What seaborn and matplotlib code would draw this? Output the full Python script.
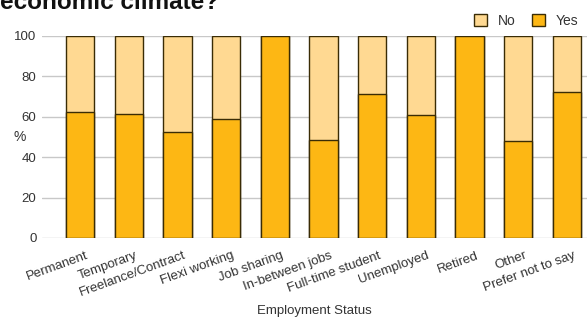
import pandas as pd
import matplotlib
matplotlib.use("Agg")
import matplotlib.pyplot as plt
import matplotlib.transforms as mtransforms
import seaborn as sns
from matplotlib.patches import Patch

# -------- data --------
categories = ["Permanent", "Temporary", "Freelance/Contract", "Flexi working",
              "Job sharing", "In-between jobs", "Full-time student", "Unemployed",
              "Retired", "Other", "Prefer not to say"]
yes_pct = [62.5, 61.3, 52.5, 59.0, 100.0, 48.5, 71.5, 61.0, 100.0, 48.0, 72.5]
no_pct = [100 - v for v in yes_pct]

df = pd.DataFrame({"status": categories, "Yes": yes_pct, "No": no_pct})
df["Total"] = df["Yes"] + df["No"]

yes_col = "#FDB714"
no_col = "#FFD992"
edge = "#3a2c05"
txt = "#333333"

sns.set_style("white")
plt.rcParams["font.family"] = ["Liberation Sans", "DejaVu Sans"]

fig = plt.figure(figsize=(5.87, 3.29), dpi=100)
ax = fig.add_axes([42 / 587, (329 - 238) / 329, 1 - 42 / 587, 202 / 329])

sns.barplot(data=df, x="status", y="Total", color=no_col, width=0.58,
            saturation=1, edgecolor=edge, linewidth=1, ax=ax, zorder=3)
sns.barplot(data=df, x="status", y="Yes", color=yes_col, width=0.58,
            saturation=1, edgecolor=edge, linewidth=1, ax=ax, zorder=4)

ax.set_ylim(0, 100)
ax.set_xlim(-0.78, 10.41)
ax.set_yticks([0, 20, 40, 60, 80, 100])
ax.yaxis.grid(True, color="#c8c8c8", linewidth=1, zorder=0)
ax.set_axisbelow(True)
for s in ax.spines.values():
    s.set_visible(False)

ax.tick_params(axis="both", length=0, labelsize=9.5, labelcolor=txt)
ax.tick_params(axis="y", pad=4)
ax.set_xticks(range(len(categories)))
ax.set_xticklabels(categories, rotation=20, ha="right", rotation_mode="anchor",
                   fontsize=9.5, color=txt)
ax.tick_params(axis="x", pad=4)
shift = mtransforms.ScaledTranslation(6 / 100, -6 / 100, fig.dpi_scale_trans)
for lab in ax.get_xticklabels():
    lab.set_transform(lab.get_transform() + shift)

ax.set_xlabel("")
ax.set_ylabel("")
fig.text(314 / 587, 1 - 311 / 329, "Employment Status", fontsize=9.5,
         color=txt, ha="center", va="center")
fig.text(20 / 587, 1 - 137 / 329, "%", fontsize=10, color=txt,
         ha="center", va="center")

# title is cropped at the top in the source image, only its last line shows
fig.text(0.5 / 587, 1 - 9 / 329, "economic climate?", fontsize=17.5,
         fontweight="bold", color="#111111", ha="left", va="baseline")

handles = [Patch(facecolor=no_col, edgecolor=edge, linewidth=1, label="No"),
           Patch(facecolor=yes_col, edgecolor=edge, linewidth=1, label="Yes")]
ax.legend(handles=handles, ncol=2, loc="lower right", bbox_to_anchor=(1.0, 1.0),
          frameon=False, fontsize=10, handlelength=0.9, handleheight=0.9,
          handletextpad=0.8, columnspacing=1.2, borderaxespad=0.2,
          labelcolor=txt)

fig.savefig("out.png", dpi=100)
